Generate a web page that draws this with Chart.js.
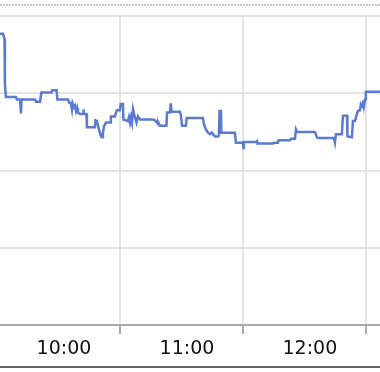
<!DOCTYPE html>
<html>
<head>
<meta charset="utf-8">
<style>
  html, body { margin: 0; padding: 0; background: #fff; }
  #wrap { width: 380px; height: 372px; }
</style>
<script src="https://cdn.jsdelivr.net/npm/chart.js@4/dist/chart.umd.min.js"></script>
</head>
<body>
<div id="wrap"><canvas id="myChart" width="380" height="372"></canvas></div>
<script>
"use strict";

// minutes since midnight
const times = [
  568.8, 570.3, 571.0, 571.2, 571.7, 576.6, 577.1, 578.6, 579.0, 579.3,
  585.9, 586.4, 588.3, 589.0, 593.9, 594.2, 596.4, 596.8, 602.0, 602.5,
  603.4, 603.9, 604.2, 604.9, 605.4, 605.9, 606.4, 606.8, 607.8, 609.3,
  609.5, 609.8, 611.0, 611.2, 615.1, 615.4, 616.1, 617.1, 618.1, 618.6,
  619.0, 619.5, 620.5, 622.5, 622.9, 624.9, 625.4, 625.9, 627.3, 627.7,
  628.8, 629.0, 631.2, 631.7, 632.2, 632.7, 633.2, 633.7, 634.2, 635.4,
  636.1, 637.1, 643.4, 644.4, 645.4, 645.9, 646.1, 646.8, 650.0, 650.3,
  651.7, 652.1, 652.5, 656.6, 657.1, 657.6, 659.5, 659.9, 667.8, 668.3,
  669.3, 670.3, 671.2, 672.2, 672.7, 673.7, 675.1, 675.6, 675.9, 676.6,
  676.8, 683.4, 683.9, 687.3, 687.6, 687.8, 693.7, 694.2, 694.4, 702.0,
  702.5, 704.4, 704.7, 710.3, 710.8, 712.7, 713.2, 713.7, 722.5, 723.4,
  723.9, 731.7, 732.2, 732.7, 735.6, 736.1, 738.1, 738.3, 740.5, 741.0,
  742.0, 742.5, 742.9, 743.4, 744.4, 744.9, 745.9, 746.1, 746.4, 746.9,
  747.3, 754.2
];

const values = [
  3.77, 3.77, 3.70, 3.12, 2.95, 2.95, 2.92, 2.92, 2.74, 2.92,
  2.92, 2.89, 2.89, 3.01, 3.01, 3.04, 3.04, 2.92, 2.92, 2.88,
  2.87, 2.79, 2.87, 2.82, 2.84, 2.77, 2.81, 2.75, 2.73, 2.73,
  2.79, 2.73, 2.73, 2.56, 2.56, 2.65, 2.64, 2.53, 2.44, 2.43,
  2.48, 2.57, 2.62, 2.62, 2.70, 2.70, 2.75, 2.78, 2.78, 2.86,
  2.86, 2.66, 2.64, 2.69, 2.62, 2.69, 2.62, 2.79, 2.73, 2.62,
  2.70, 2.66, 2.66, 2.65, 2.62, 2.60, 2.62, 2.58, 2.58, 2.75,
  2.75, 2.87, 2.76, 2.76, 2.71, 2.58, 2.58, 2.68, 2.68, 2.60,
  2.53, 2.49, 2.47, 2.49, 2.47, 2.44, 2.44, 2.45, 2.77, 2.77,
  2.49, 2.49, 2.36, 2.36, 2.29, 2.37, 2.37, 2.38, 2.35, 2.35,
  2.36, 2.36, 2.39, 2.39, 2.41, 2.41, 2.53, 2.50, 2.50, 2.43,
  2.42, 2.42, 2.36, 2.47, 2.47, 2.71, 2.71, 2.44, 2.43, 2.64,
  2.64, 2.69, 2.69, 2.77, 2.78, 2.86, 2.82, 2.91, 2.84, 2.92,
  3.02, 3.02
];

// labelled hours and the grid positions between them
const labelTicks = [600, 660, 720];
const gridTicks = [627.5, 687.5, 747.5];

const lineBlue = "#5a7bcf";
const gridGrey = "#e4e4e4";

const fmt = (m) => Math.floor(m / 60) + ":" + String(Math.round(m % 60)).padStart(2, "0");
const isGrid = (v) => gridTicks.includes(v);

const frame = {
  id: "frame",
  afterDraw(chart) {
    const c = chart.ctx;
    c.save();
    c.strokeStyle = "#c4c4c4";
    c.lineWidth = 2;
    c.setLineDash([2, 1]);
    c.beginPath();
    c.moveTo(0, 5);
    c.lineTo(chart.width, 5);
    c.stroke();
    c.setLineDash([]);
    c.strokeStyle = "#666";
    c.beginPath();
    c.moveTo(0, 367);
    c.lineTo(chart.width, 367);
    c.stroke();
    c.restore();
  },
};

new Chart(document.getElementById("myChart"), {
  type: "line",
  data: {
    datasets: [
      {
        data: times.map((t, i) => ({ x: t, y: values[i] })),
        borderColor: lineBlue,
        borderWidth: 2.5,
        pointRadius: 0,
        tension: 0,
      },
    ],
  },
  options: {
    responsive: false,
    animation: false,
    layout: { padding: { top: 16, left: 0, right: 0, bottom: 0 } },
    scales: {
      x: {
        type: "linear",
        min: 568.8,
        max: 754.2,
        afterBuildTicks: (scale) => {
          scale.ticks = [...labelTicks, ...gridTicks]
            .sort((a, b) => a - b)
            .map((v) => ({ value: v }));
        },
        afterFit: (scale) => {
          scale.height = 47;
        },
        grid: {
          color: (ctx) => (isGrid(ctx.tick.value) ? gridGrey : "rgba(0,0,0,0)"),
          tickColor: (ctx) => (isGrid(ctx.tick.value) ? "#aaa" : "rgba(0,0,0,0)"),
          lineWidth: 2,
          tickLength: 9,
        },
        border: { color: "#a8a8a8", width: 2 },
        ticks: {
          autoSkip: false,
          maxRotation: 0,
          padding: 4,
          color: "#111",
          font: { family: "DejaVu Sans", size: 19 },
          callback: (v) => (labelTicks.includes(v) ? fmt(v) : ""),
        },
      },
      y: {
        min: 0,
        max: 4,
        afterFit: (scale) => {
          scale.width = 0;
        },
        grid: {
          color: (ctx) => (ctx.tick.value === 0 ? "rgba(0,0,0,0)" : gridGrey),
          lineWidth: 2,
          drawTicks: false,
        },
        border: { display: false },
        ticks: { display: false, stepSize: 1 },
      },
    },
    plugins: {
      legend: { display: false },
      tooltip: { enabled: false },
    },
  },
  plugins: [frame],
});
</script>
</body>
</html>
